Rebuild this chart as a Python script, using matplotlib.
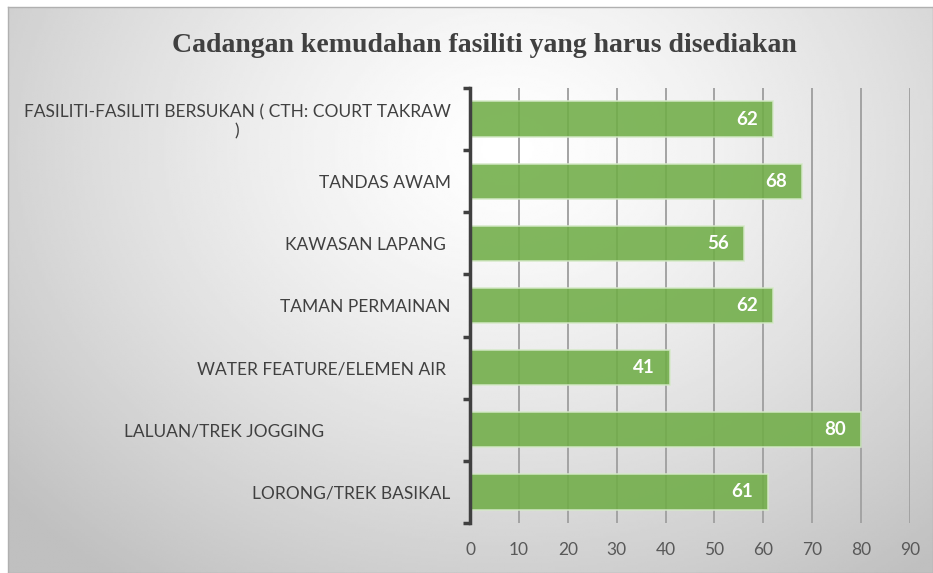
import numpy as np
import matplotlib
matplotlib.use("Agg")
import matplotlib.pyplot as plt

# -----------------------------
# Data (bottom to top)
# -----------------------------
categories = [
    "LORONG/TREK BASIKAL",
    "LALUAN/TREK JOGGING" + " " * 28,
    "WATER FEATURE/ELEMEN AIR ",
    "TAMAN PERMAINAN",
    "KAWASAN LAPANG ",
    "TANDAS AWAM",
    "FASILITI-FASILITI BERSUKAN ( CTH: COURT TAKRAW\n)",
]
values = [61, 80, 41, 62, 56, 68, 62]
x_ticks = [0, 10, 20, 30, 40, 50, 60, 70, 80, 90]
title = "Cadangan kemudahan fasiliti yang harus disediakan"

W, H = 933, 573
fig = plt.figure(figsize=(W / 100, H / 100), dpi=100, facecolor="white")

# -----------------------------
# Chart area background (radial gradient)
# -----------------------------
left_px, top_px = 8, 7
bg = fig.add_axes([left_px / W, 0, 1 - left_px / W, 1 - top_px / H], zorder=-5)
gx = np.linspace(0, 1, 400)
gy = np.linspace(0, 1, 250)
XX, YY = np.meshgrid(gx, gy)
r = np.sqrt(((XX - 0.54) / 0.72) ** 2 + ((YY - 0.25) / 0.95) ** 2)
shade = np.clip(1.0 - 0.25 * r ** 1.3, 0.75, 1.0)
bg.imshow(shade, cmap="gray", vmin=0, vmax=1, aspect="auto",
          extent=[0, 1, 1, 0], interpolation="bilinear")
bg.set_xlim(0, 1)
bg.set_ylim(1, 0)
bg.set_xticks([])
bg.set_yticks([])
for s in bg.spines.values():
    s.set_color("#b0b0b0")
    s.set_linewidth(1.0)

# -----------------------------
# Bar chart
# -----------------------------
ax = fig.add_axes([470 / W, 50 / H, (910 - 470) / W, (523 - 88) / H])
ax.set_facecolor("none")

y = np.arange(len(categories))
bars = ax.barh(y, values, height=0.57, color="#70AD47", alpha=0.88,
               edgecolor="#d5e9c8", linewidth=1.2, zorder=3)

labels = ax.bar_label(bars, labels=[str(v) for v in values], padding=-11,
                      color="white", fontsize=13.5, fontweight="bold",
                      family="Lato")
for t in labels:
    t.set_ha("right")

ax.set_xlim(0, 90)
ax.set_ylim(-0.5, len(categories) - 0.5)
ax.set_xticks(x_ticks)
ax.set_xticklabels([str(t) for t in x_ticks], fontsize=12.5, color="#595959",
                   family="Lato")
ax.set_yticks(y)
ax.set_yticklabels(categories, fontsize=12.5, color="#404040", family="Lato",
                   multialignment="center")
ax.set_yticks(np.arange(-0.5, len(categories), 1), minor=True)

ax.tick_params(axis="x", length=0, pad=14)
ax.tick_params(axis="y", which="major", length=0, pad=14)
ax.tick_params(axis="y", which="minor", length=5, width=2.5,
               color="#404040", direction="out")

ax.grid(axis="x", color="#a3a3a3", linewidth=1.4, zorder=1)
ax.set_axisbelow(True)

for side in ["top", "right", "bottom"]:
    ax.spines[side].set_visible(False)
ax.spines["left"].set_color("#404040")
ax.spines["left"].set_linewidth(2.5)
ax.spines["left"].set_zorder(4)

fig.text(484 / W, 1 - 45 / H, title, ha="center", va="center",
         fontsize=20, fontweight="bold", color="#404040",
         family="Liberation Serif")

plt.savefig("out.png", dpi=100, facecolor="white")
